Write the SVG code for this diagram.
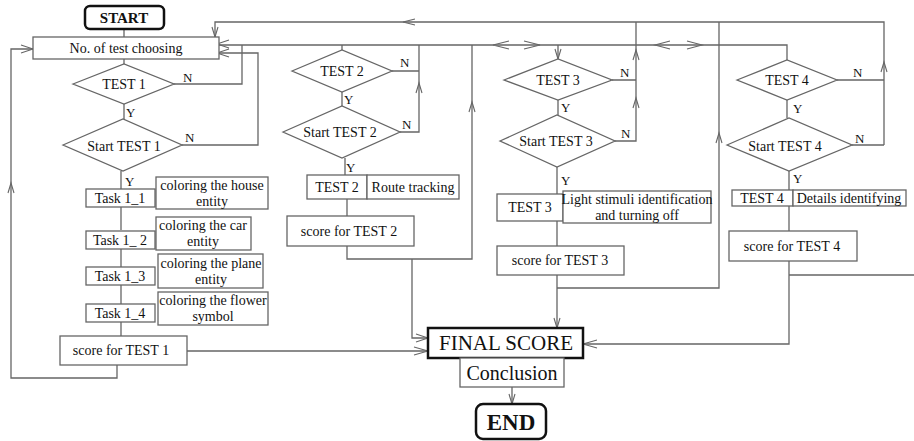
<svg xmlns="http://www.w3.org/2000/svg" width="914" height="441" viewBox="0 0 914 441">
<style>
text{font-family:"Liberation Serif","Times New Roman",serif;fill:#111;font-size:14px;text-anchor:middle;dominant-baseline:central}
.box{fill:#fff;stroke:#666;stroke-width:1.3}
.ln{fill:none;stroke:#666;stroke-width:1.3}
.ah{fill:none;stroke:#666;stroke-width:1.1}
text.lab{font-size:13px;text-anchor:start}
.term{fill:#fff;stroke:#111;stroke-width:2.5}
text.st{font-weight:bold;font-size:15px}
text.en{font-weight:bold;font-size:23px}
text.fs{font-size:21px}
text.cc{font-size:20px}
</style>
<rect width="914" height="441" fill="#fff"/>
<g id="connectors">
<path class="ln" d="M124 29V37M124 59V64M174 84H242V45M219 45H787V60M182 145H258V53H219M124 104V119"/>
<path class="ln" d="M121 171V189M121 207V230M121 249V267M121 285V304M121 322V336"/>
<path class="ln" d="M117 365V378H11V49H33M187 351H428"/>
<path class="ln" d="M884 145V22H215V37M636 22V141H615M612 80H636M719 22V288H557"/>
<path class="ln" d="M342 45V50M392 71H419M419 45V132H400M342 92V106M345 158V175M347 199V216M347 246V259H472V45M412 259V338H428"/>
<path class="ln" d="M558 45V59M558 100V115M557 167V194M557 221V246M557 275V328"/>
<path class="ln" d="M837 80H884M852 145H884M787 100V118M789 171V190M789 206V231M789 261V344H583M789 275H914M512 387V404"/>
<path class="ah" d="M217 44L229 40M217 44L229 48M217 53L229 49M217 53L229 57"/>
<path class="ah" d="M33 49L21 45M33 49L21 53M8 193L11 183L14 193"/>
<path class="ah" d="M212 27L215 37L218 27M415 19L403 22L415 25"/>
<path class="ah" d="M428 351L414 347M428 351L414 355M428 338L416 334M428 338L416 342"/>
<path class="ah" d="M416 93L419 83L422 93M469 112L472 102L475 112"/>
<path class="ah" d="M509 41L493 45L509 49M524 41L540 45L524 49M670 41L655 45L670 49M687 41L702 45L687 49"/>
<path class="ah" d="M555 49L558 59L561 49M554 318L557 328L560 318"/>
<path class="ah" d="M633 60L636 50L639 60M633 108L636 98L639 108M716 143L719 133L722 143M881 72L884 62L887 72"/>
<path class="ah" d="M583 344L597 340M583 344L597 348M509 394L512 404L515 394"/>
</g>
<g id="start"><rect class="term" x="85" y="6" width="79" height="23" rx="5"/><text class="st" x="124" y="18">START</text></g>
<g id="choose"><rect class="box" x="33" y="37" width="186" height="22"/><text x="126" y="48">No. of test choosing</text></g>
<g id="test1"><polygon class="box" points="73,84 124,64 174,84 124,104"/><text x="124" y="84">TEST 1</text><text class="lab" x="183" y="77">N</text><text class="lab" x="126" y="112">Y</text></g>
<g id="start1"><polygon class="box" points="63,145 123,119 182,145 123,171"/><text x="124" y="146">Start TEST 1</text><text class="lab" x="185" y="137">N</text><text class="lab" x="125" y="181">Y</text></g>
<g id="task11"><rect class="box" x="86" y="189" width="69" height="18"/><text x="120" y="198">Task 1_1</text><rect class="box" x="156" y="177" width="112" height="32"/><text x="212" y="185">coloring the house</text><text x="212" y="201">entity</text></g>
<g id="task12"><rect class="box" x="86" y="231" width="69" height="18"/><text x="120" y="240">Task 1_ 2</text><rect class="box" x="156" y="217" width="95" height="33"/><text x="203" y="225">coloring the car</text><text x="203" y="241">entity</text></g>
<g id="task13"><rect class="box" x="86" y="267" width="69" height="18"/><text x="120" y="276">Task 1_3</text><rect class="box" x="158" y="254" width="105" height="34"/><text x="211" y="263">coloring the plane</text><text x="211" y="279">entity</text></g>
<g id="task14"><rect class="box" x="86" y="304" width="69" height="18"/><text x="120" y="313">Task 1_4</text><rect class="box" x="158" y="292" width="110" height="33"/><text x="213" y="300">coloring the flower</text><text x="213" y="316">symbol</text></g>
<g id="score1"><rect class="box" x="60" y="336" width="127" height="29"/><text x="121" y="350">score for TEST 1</text></g>
<g id="test2"><polygon class="box" points="292,71 342,50 392,71 342,92"/><text x="342" y="71">TEST 2</text><text class="lab" x="400" y="62">N</text><text class="lab" x="344" y="99">Y</text></g>
<g id="start2"><polygon class="box" points="283,132 342,106 400,132 342,158"/><text x="340" y="132">Start TEST 2</text><text class="lab" x="402" y="124">N</text><text class="lab" x="346" y="167">Y</text></g>
<g id="task2"><rect class="box" x="307" y="175" width="60" height="24"/><text x="337" y="187">TEST 2</text><rect class="box" x="367" y="175" width="92" height="24"/><text x="413" y="187">Route tracking</text></g>
<g id="score2"><rect class="box" x="287" y="216" width="127" height="30"/><text x="349" y="231">score for TEST  2</text></g>
<g id="test3"><polygon class="box" points="504,80 558,59 612,80 558,100"/><text x="558" y="80">TEST 3</text><text class="lab" x="620" y="72">N</text><text class="lab" x="561" y="107">Y</text></g>
<g id="start3"><polygon class="box" points="500,141 557,115 615,141 557,167"/><text x="556" y="141">Start TEST 3</text><text class="lab" x="621" y="133">N</text><text class="lab" x="561" y="180">Y</text></g>
<g id="task3"><rect class="box" x="497" y="194" width="66" height="27"/><text x="530" y="207">TEST  3</text><rect class="box" x="563" y="191" width="148" height="32"/><text x="637" y="199">Light stimuli identification</text><text x="637" y="215">and turning off</text></g>
<g id="score3"><rect class="box" x="497" y="246" width="127" height="29"/><text x="560" y="260">score for TEST  3</text></g>
<g id="test4"><polygon class="box" points="737,80 787,60 837,80 787,100"/><text x="787" y="80">TEST 4</text><text class="lab" x="853" y="72">N</text><text class="lab" x="793" y="108">Y</text></g>
<g id="start4"><polygon class="box" points="727,145 789,118 852,145 789,171"/><text x="785" y="146">Start TEST 4</text><text class="lab" x="855" y="138">N</text><text class="lab" x="793" y="178">Y</text></g>
<g id="task4"><rect class="box" x="732" y="190" width="61" height="16"/><text x="762" y="198">TEST 4</text><rect class="box" x="793" y="190" width="113" height="16"/><text x="849" y="198">Details  identifying</text></g>
<g id="score4"><rect class="box" x="729" y="231" width="128" height="30"/><text x="792" y="246">score for TEST  4</text></g>
<g id="final"><rect x="428" y="328" width="155" height="30" fill="#fff" stroke="#111" stroke-width="2.5"/><text class="fs" x="506" y="343">FINAL SCORE</text></g>
<g id="conclusion"><rect class="box" x="460" y="358" width="104" height="29"/><text class="cc" x="512" y="373">Conclusion</text></g>
<g id="end"><rect class="term" x="476" y="404" width="70" height="35" rx="7"/><text class="en" x="511" y="422">END</text></g>
</svg>
